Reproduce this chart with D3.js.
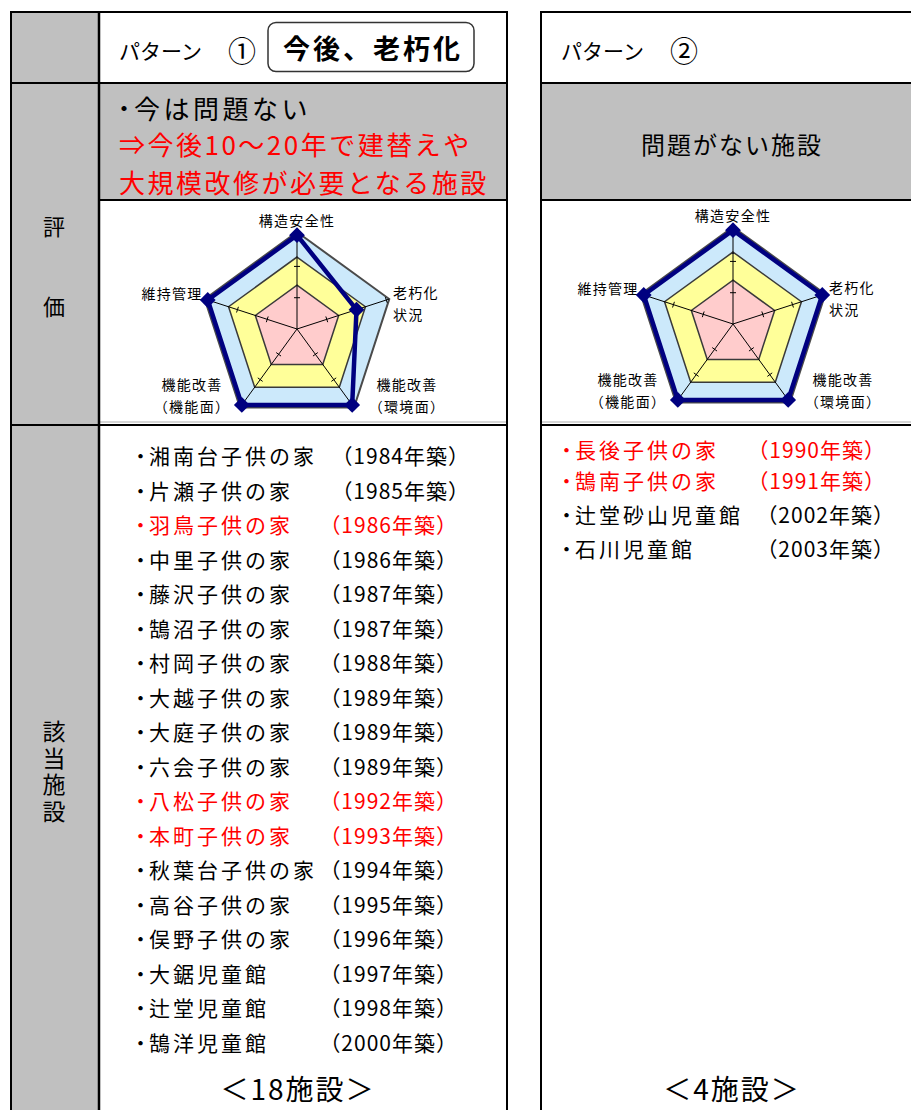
<!DOCTYPE html>
<html><head><meta charset="utf-8">
<script src="https://cdn.jsdelivr.net/npm/d3@7"></script>
<style>
body{margin:0;background:#fff;overflow:hidden}
text{font-family:"Noto Sans CJK JP","Noto Sans",sans-serif}
</style>
</head><body><svg id="c" width="911" height="1110"></svg>
<script>
// ---------------- data ----------------
const axisNames = ["構造安全性","老朽化状況","機能改善（環境面）","機能改善（機能面）","維持管理"];
const axisLabelLines = [["構造安全性"],["老朽化","状況"],["機能改善","（環境面）"],["機能改善","（機能面）"],["維持管理"]];
const bandValues = [3.1, 2.3, 1.4];           // outer (blue), middle (yellow), inner (pink)
const bandColors = ["#cce9fb", "#ffff99", "#ffcccc"];
const tickValues = [1, 2, 3];
const pattern1Scores = [3, 2, 3, 3, 3];
const pattern2Scores = [3, 3, 3, 3, 3];

const pattern1Names = ["湘南台子供の家","片瀬子供の家","羽鳥子供の家","中里子供の家","藤沢子供の家","鵠沼子供の家","村岡子供の家","大越子供の家","大庭子供の家","六会子供の家","八松子供の家","本町子供の家","秋葉台子供の家","高谷子供の家","俣野子供の家","大鋸児童館","辻堂児童館","鵠洋児童館"];
const pattern1Years = [1984,1985,1986,1986,1987,1987,1988,1989,1989,1989,1992,1993,1994,1995,1996,1997,1998,2000];
const pattern1Red = [false,false,true,false,false,false,false,false,false,false,true,true,false,false,false,false,false,false];

const pattern2Names = ["長後子供の家","鵠南子供の家","辻堂砂山児童館","石川児童館"];
const pattern2Years = [1990,1991,2002,2003];
const pattern2Red = [true,true,false,false];

const headerLabels = ["パターン　","パターン　"];
const headerMarks = ["①","②"];
const headerBadge = "今後、老朽化";
const eval1Lines = ["今は問題ない","⇒今後10～20年で建替えや","大規模改修が必要となる施設"];
const eval2Text = "問題がない施設";
const footerLabels = ["＜18施設＞","＜4施設＞"];
const sideLabels = ["評","価"];
const sideLabel2 = "該当施設";

// ---------------- layout ----------------
const svg = d3.select("#c");
const X = {L:11, G:99, P1R:507, P2L:541, P2R:930};
const Y = {T:12, H:83, E:200, R:425, B:1130};
const black = "#000", red = "#ff0000", gray = "#c0c0c0";

// backgrounds
svg.append("rect").attr("x",X.L).attr("y",Y.T).attr("width",X.G-X.L).attr("height",Y.B-Y.T).attr("fill",gray);
svg.append("rect").attr("x",X.G).attr("y",Y.H).attr("width",X.P1R-X.G).attr("height",Y.E-Y.H).attr("fill",gray);
svg.append("rect").attr("x",X.P2L).attr("y",Y.H).attr("width",X.P2R-X.P2L).attr("height",Y.E-Y.H).attr("fill",gray);

// faint chart frame bottoms
[[X.G+1,X.P1R-1],[X.P2L+1,X.P2R]].forEach(([a,b])=>{
  svg.append("line").attr("x1",a).attr("x2",b).attr("y1",Y.R-3).attr("y2",Y.R-3).attr("stroke","#c8c8c8").attr("stroke-width",1.5);
});

// table lines
const grid = svg.append("g").attr("stroke",black).attr("stroke-width",2).attr("fill","none");
const hl=(x1,x2,y)=>grid.append("line").attr("x1",x1).attr("x2",x2).attr("y1",y).attr("y2",y);
const vl=(x,y1,y2)=>grid.append("line").attr("x1",x).attr("x2",x).attr("y1",y1).attr("y2",y2);
hl(X.L-1,X.P1R+1,Y.T); hl(X.L,X.P1R,Y.H); hl(X.G,X.P1R,Y.E); hl(X.L,X.P1R,Y.R);
vl(X.L,Y.T,Y.B); vl(X.P1R,Y.T,Y.B);
grid.append("line").attr("x1",X.G).attr("x2",X.G).attr("y1",Y.T).attr("y2",Y.B).attr("stroke-width",2.5);
hl(X.P2L-1,X.P2R,Y.T); hl(X.P2L,X.P2R,Y.H); hl(X.P2L,X.P2R,Y.E); hl(X.P2L,X.P2R,Y.R);
vl(X.P2L,Y.T,Y.B);

// side labels
sideLabels.forEach((t,i)=>svg.append("text").attr("x",54).attr("y",[225,305][i]).attr("text-anchor","middle")
  .attr("dominant-baseline","central").attr("font-size",22).text(t));
svg.append("text").attr("x",54).attr("y",773).attr("text-anchor","middle").attr("font-size",23)
  .style("writing-mode","vertical-rl").style("letter-spacing","3.7px").text(sideLabel2);

// headers
[[119,0],[561,1]].forEach(([x,k])=>{
  const t = svg.append("text").attr("x",x).attr("y",50).attr("dominant-baseline","central").attr("font-size",21);
  t.append("tspan").text(headerLabels[k]);
  t.append("tspan").attr("font-size",28).attr("dx",5).text(headerMarks[k]);
});
svg.append("rect").attr("x",268).attr("y",22.5).attr("width",206).attr("height",49).attr("rx",8)
  .attr("fill","#fff").attr("stroke","#333").attr("stroke-width",1.5);
svg.append("text").attr("x",373).attr("y",47).attr("text-anchor","middle").attr("dominant-baseline","central")
  .attr("font-size",27).attr("font-weight","bold").style("letter-spacing","3px").text(headerBadge);

// evaluation texts
const e0 = svg.append("text").attr("x",114).attr("y",107).attr("dominant-baseline","central").attr("font-size",26);
e0.append("tspan").attr("font-size",20).attr("font-weight","bold").text("・");
e0.append("tspan").style("letter-spacing","3.5px").text(eval1Lines[0]);
const ev = svg.append("g").attr("font-size",26).style("letter-spacing","2.5px");
ev.append("text").attr("x",119).attr("y",143).attr("dominant-baseline","central").attr("fill",red).text(eval1Lines[1]);
ev.append("text").attr("x",119).attr("y",181).attr("dominant-baseline","central").attr("fill",red).text(eval1Lines[2]);
svg.append("text").attr("x",732).attr("y",143).attr("text-anchor","middle").attr("dominant-baseline","central")
  .attr("font-size",24).style("letter-spacing","2px").text(eval2Text);

// ---------------- radar charts ----------------
const rScale = d3.scaleLinear().domain([0, 3.1]).range([0, 97]);
const ang = i => i * 2 * Math.PI / axisNames.length;
const radial = d3.lineRadial().angle((d,i)=>ang(i)).radius(d=>rScale(d)).curve(d3.curveLinearClosed);
const labelOffsets = [
  {dx:0, dy:-109, anchor:"middle"},
  {dx:96, dy:-37, anchor:"start"},
  {dx:110, dy:55, anchor:"middle"},
  {dx:-105, dy:55, anchor:"middle"},
  {dx:-125, dy:-36, anchor:"middle"}
];

function radar(cx, cy, scores){
  const g = svg.append("g").attr("transform",`translate(${cx},${cy})`);
  bandValues.forEach((v,k)=>{
    g.append("path").attr("d", radial(axisNames.map(()=>v)))
      .attr("fill", bandColors[k]).attr("stroke", k===0 ? "#4a4a4a" : "#3a3a3a").attr("stroke-width", k===0?2:1.5);
  });
  const rMax = rScale.domain()[1];
  axisNames.forEach((n,i)=>{
    const a = ang(i) - Math.PI/2;
    const c = Math.cos(a), s = Math.sin(a);
    g.append("line").attr("x1",0).attr("y1",0).attr("x2",rScale(rMax)*c).attr("y2",rScale(rMax)*s)
      .attr("stroke","#000").attr("stroke-width",1);
    tickValues.forEach(t=>{
      const r = rScale(t);
      g.append("line").attr("x1",r*c - 3*(-s)).attr("y1",r*s - 3*c).attr("x2",r*c + 3*(-s)).attr("y2",r*s + 3*c)
        .attr("stroke","#000").attr("stroke-width",1);
    });
  });
  g.append("path").attr("d", radial(scores)).attr("fill","none").attr("stroke","#000080").attr("stroke-width",4.5)
    .attr("stroke-linejoin","miter");
  scores.forEach((v,i)=>{
    const a = ang(i) - Math.PI/2;
    g.append("path").attr("d", d3.symbol(d3.symbolSquare, 125)())
      .attr("transform",`translate(${rScale(v)*Math.cos(a)},${rScale(v)*Math.sin(a)}) rotate(45)`)
      .attr("fill","#000080");
  });
  axisLabelLines.forEach((lines,i)=>{
    const o = labelOffsets[i];
    const t = g.append("text").attr("font-size",14).attr("text-anchor",o.anchor).style("letter-spacing","1.3px");
    lines.forEach((ln,j)=>t.append("tspan").attr("x",o.dx).attr("y",o.dy + j*22).attr("dominant-baseline","central").text(ln));
  });
}
radar(297, 329, pattern1Scores);
radar(733, 324, pattern2Scores);

// ---------------- facility lists ----------------
function list(names, years, reds, xName, yearEnd, yOf){
  const g = svg.append("g").attr("font-size",21);
  names.forEach((n,i)=>{
    const col = reds[i] ? red : black;
    const t = g.append("text").attr("x",xName).attr("y",yOf(i)).attr("dominant-baseline","central").attr("fill",col);
    t.append("tspan").attr("font-size",17).attr("font-weight","bold").text("・");
    t.append("tspan").style("letter-spacing","3px").text(n);
    g.append("text").attr("x",yearEnd(i)).attr("y",yOf(i)).attr("dominant-baseline","central").attr("text-anchor","end")
      .attr("fill",col).style("letter-spacing","1px").text(`（${years[i]}年築）`);
  });
}
list(pattern1Names, pattern1Years, pattern1Red, 132, i=> i<2 ? 470 : 458, i=>455 + i*34.5);
const p2Rows = [449, 480, 514, 548];
list(pattern2Names, pattern2Years, pattern2Red, 558, i=> i<2 ? 886 : 895, i=>p2Rows[i]);

// footers
[[297,0],[731,1]].forEach(([x,k])=>{
  svg.append("text").attr("x",x+1).attr("y",1088).attr("text-anchor","middle").attr("dominant-baseline","central")
    .attr("font-size",28).style("letter-spacing","2px").text(footerLabels[k]);
});
</script>
</body></html>
